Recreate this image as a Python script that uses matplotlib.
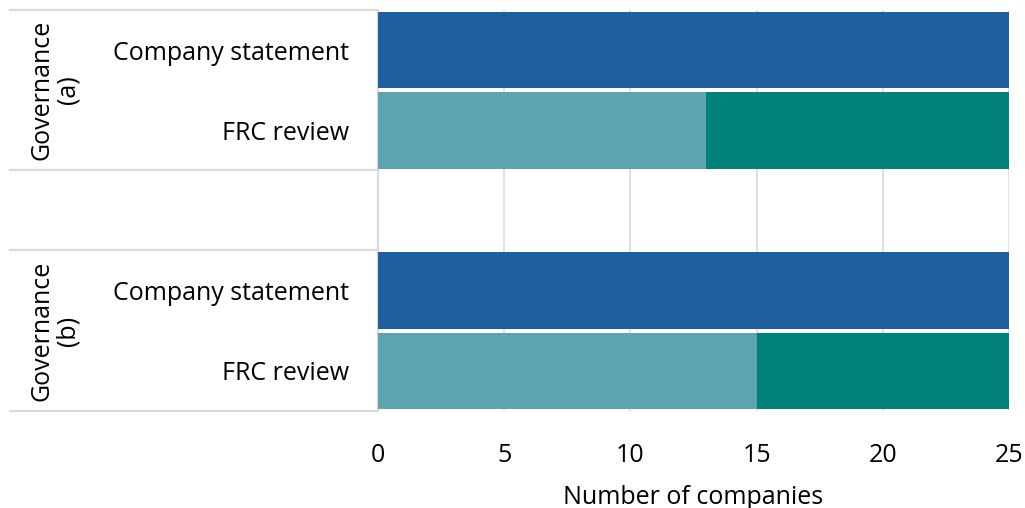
import numpy as np
from matplotlib import pyplot as plt
from matplotlib.lines import Line2D

plt.rcParams['font.family'] = ['Open Sans', 'DejaVu Sans']

# rows top to bottom (empty string = spacer row)
rows = ['Company statement', 'FRC review', '', 'Company statement', 'FRC review']
groups = ['Governance\n(a)', 'Governance\n(b)']
statement = [25, 0, 0, 25, 0]
review_part = [0, 13, 0, 0, 15]
review_rest = [0, 12, 0, 0, 10]

c_blue = '#1F5FA0'
c_light = '#5CA5B0'
c_dark = '#00827A'
grid_c = '#D9D9D9'
fs = 18

fig = plt.figure(figsize=(10.25, 5.08), dpi=100)
ax = fig.add_axes([378/1025, 1 - 411/508, 631/1025, 401/508])

y = np.arange(len(rows))
h = 0.955
ax.barh(y, statement, height=h, color=c_blue, zorder=3)
ax.barh(y, review_part, height=h, color=c_light, zorder=3)
ax.barh(y, review_rest, left=review_part, height=h, color=c_dark, zorder=3)

ax.set_xlim(0, 25)
ax.set_ylim(len(rows) - 0.5, -0.5)
ax.set_xticks([0, 5, 10, 15, 20, 25])
ax.set_yticks(y)
ax.set_yticklabels(rows, fontsize=fs)
ax.tick_params(axis='y', length=0, pad=21)
ax.tick_params(axis='x', length=0, pad=23, labelsize=fs)
ax.grid(axis='x', color=grid_c, linewidth=1.2, zorder=0)
for s in ['top', 'bottom', 'right']:
    ax.spines[s].set_visible(False)
ax.spines['left'].set_color(grid_c)
ax.spines['left'].set_linewidth(1.5)
ax.set_xlabel('Number of companies', fontsize=fs, labelpad=12)

# row separators on the label side
for yy in [10, 170, 250, 411]:
    fig.add_artist(Line2D([10/1025, 377/1025], [1 - yy/508, 1 - yy/508],
                          color=grid_c, linewidth=1.5))

# group labels
for g, yc in zip(groups, [90, 331]):
    fig.text(55/1025, 1 - yc/508, g, rotation=90, ha='center', va='center',
             fontsize=fs, linespacing=1.1)

fig.savefig('out.png', dpi=100)
